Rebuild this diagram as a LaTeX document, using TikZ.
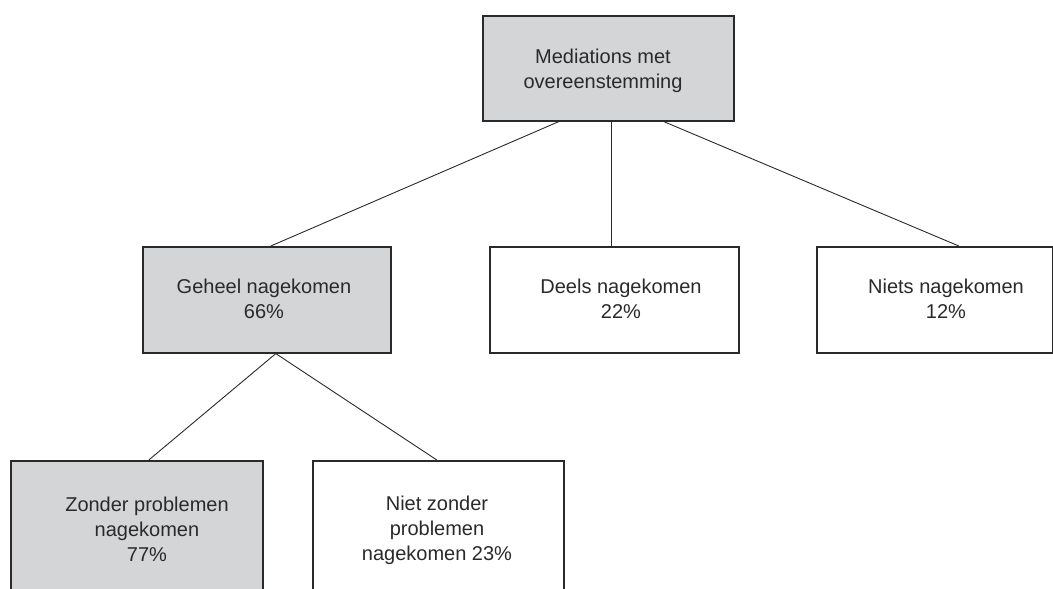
\documentclass[tikz,border=0pt]{standalone}
\usepackage{fontspec}
\setmainfont{Liberation Sans}
\definecolor{boxgray}{HTML}{D4D5D7}
\definecolor{ink}{HTML}{2A2A2A}
\tikzset{
  box/.style={draw=ink, line width=1.6pt, rectangle, anchor=north west, inner sep=0pt},
  graybox/.style={box, fill=boxgray},
  whitebox/.style={box, fill=white},
  label/.style={text=ink, font=\fontsize{20}{25}\selectfont, align=center, inner sep=0pt},
  conn/.style={draw=ink, line width=0.9pt}
}
\begin{document}
\begin{tikzpicture}[x=1pt,y=-1pt]
\useasboundingbox (0,0) rectangle (1053,589);
\clip (0,0) rectangle (1053,589);
% boxes
\node[graybox, minimum width=251pt, minimum height=105pt] (top) at (482,15) {};
\node[graybox, minimum width=248pt, minimum height=106pt] (geheel) at (142,246) {};
\node[whitebox, minimum width=249pt, minimum height=106pt] (deels) at (489,246) {};
\node[whitebox, minimum width=236pt, minimum height=106pt] (niets) at (816,246) {};
\node[graybox, minimum width=252pt, minimum height=150pt] (zonder) at (10,460) {};
\node[whitebox, minimum width=251pt, minimum height=150pt] (nietzonder) at (312,460) {};
% texts
\node[label] (ttop) at (603,71) {Mediations met\\overeenstemming};
\node[label] (tgeheel) at (264,299) {Geheel nagekomen\\66\%};
\node[label] (tdeels) at (621,299) {Deels nagekomen\\22\%};
\node[label] (tniets) at (946,299) {Niets nagekomen\\12\%};
\node[label] (tzonder) at (147,529) {Zonder problemen\\nagekomen\\77\%};
\node[label] (tnietzonder) at (437,530) {Niet zonder\\problemen\\nagekomen 23\%};
% connectors
\draw[conn] ([xshift=-49.5pt]top.south) -- ([xshift=4pt]geheel.north);
\draw[conn] ([xshift=3.5pt]top.south) -- ([xshift=-2.5pt]deels.north);
\draw[conn] ([xshift=55.5pt]top.south) -- ([xshift=24pt]niets.north);
\draw[conn] ([xshift=9pt]geheel.south) -- ([xshift=12pt]zonder.north);
\draw[conn] ([xshift=9pt]geheel.south) -- ([xshift=-1.5pt]nietzonder.north);
\end{tikzpicture}
\end{document}
